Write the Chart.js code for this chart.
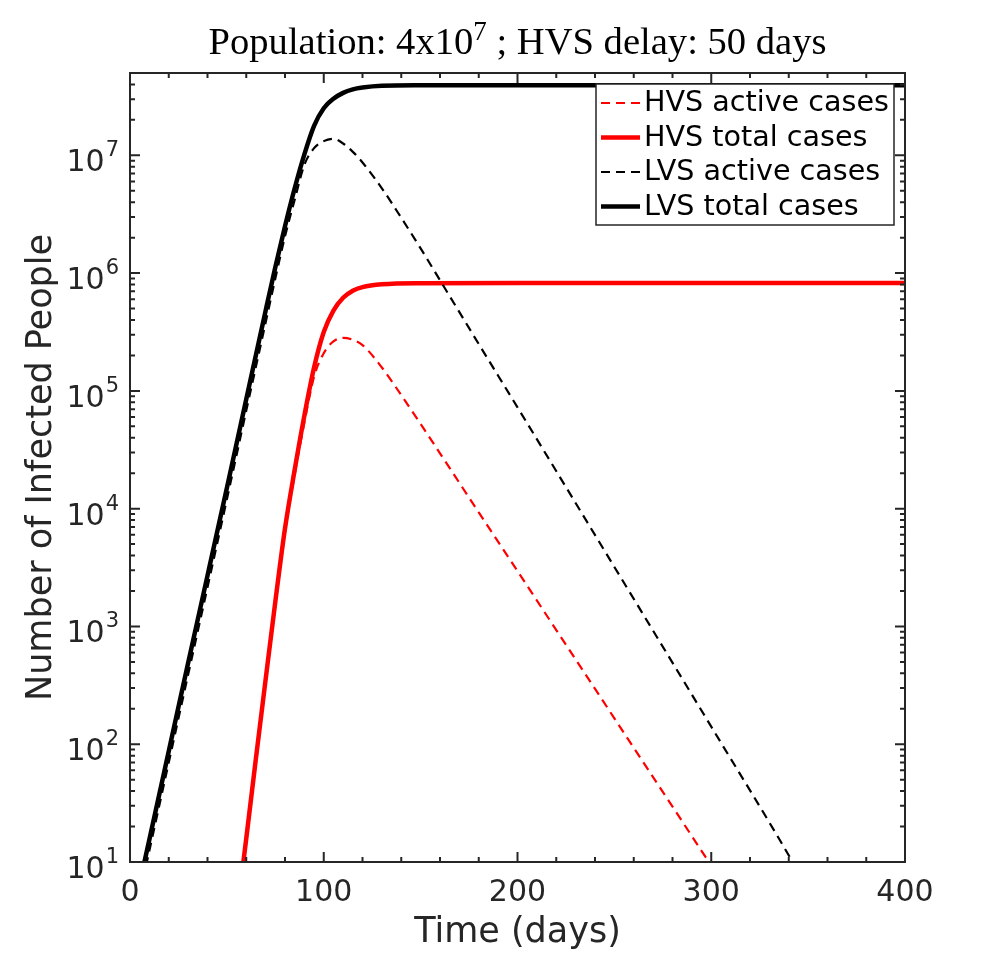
<!DOCTYPE html>
<html>
<head>
<meta charset="utf-8">
<script src="https://cdn.jsdelivr.net/npm/chart.js@4.4.0/dist/chart.umd.min.js"></script>
<style>
  html, body { margin: 0; padding: 0; background: #fff; }
  #wrap { width: 1000px; height: 968px; }
</style>
</head>
<body>
<div id="wrap"><canvas id="myChart" width="1000" height="968"></canvas></div>
<script>
// values (days, people)
const lvsDays = [0, 10, 20, 30, 40, 50, 60, 70, 75, 80, 85, 90, 95, 100, 105, 110, 115, 120, 130, 150, 200, 250, 300, 350, 400];
const lvsTotal = [2.8, 15.5, 87, 490, 2700, 15000, 85000, 4.8e5, 1.12e6, 2.5e6, 5.25e6, 1.02e7, 1.78e7, 2.51e7, 3.02e7, 3.39e7, 3.63e7, 3.76e7, 3.89e7, 3.93e7, 3.94e7, 3.94e7, 3.94e7, 3.94e7, 3.94e7];

const lvsActiveDays = [0, 10, 20, 30, 40, 50, 60, 70, 75, 80, 85, 90, 95, 100, 105, 110, 115, 120, 130, 140, 150, 160, 180, 200, 250, 300, 342, 350];
const lvsActive = [2.2, 12.5, 70, 390, 2150, 12000, 68000, 3.8e5, 9e5, 2.05e6, 4.2e6, 8.3e6, 1.15e7, 1.32e7, 1.38e7, 1.26e7, 1.07e7, 8.7e6, 5.25e6, 2.95e6, 1.62e6, 8.7e5, 2.5e5, 7.25e4, 3200, 141, 10, 5.8];

const hvsDays = [55, 60, 65, 70, 75, 80, 85, 90, 95, 100, 105, 110, 115, 120, 130, 150, 200, 250, 300, 350, 400];
const hvsTotal = [3.4, 15.8, 76, 355, 1620, 6800, 21400, 61700, 1.58e5, 3.16e5, 4.8e5, 6.17e5, 7.08e5, 7.6e5, 8.04e5, 8.22e5, 8.25e5, 8.25e5, 8.25e5, 8.25e5, 8.25e5];

const hvsActiveDays = [55, 60, 65, 70, 75, 80, 85, 90, 95, 100, 105, 110, 115, 120, 130, 140, 150, 160, 180, 200, 250, 300, 310];
const hvsActive = [3.2, 15, 70, 330, 1500, 6300, 19500, 53700, 1.32e5, 2.09e5, 2.63e5, 2.82e5, 2.72e5, 2.45e5, 1.58e5, 9.2e4, 5.25e4, 2.95e4, 9300, 2950, 166, 9.3, 5.2];

const xTickLabels = [0, 100, 200, 300, 400];
const yTickExponents = [1, 2, 3, 4, 5, 6, 7];
const seriesNames = ['HVS active cases', 'HVS total cases', 'LVS active cases', 'LVS total cases'];

const axisColor = '#262626';
const sans = '"DejaVu Sans", sans-serif';
const serif = '"Liberation Serif", serif';

function pts(days, vals) {
  return days.map((d, i) => ({ x: d, y: vals[i] }));
}

// axes box, inward ticks, tick labels, titles, legend
const frame = {
  id: 'frame',
  afterDraw(chart) {
    const ctx = chart.ctx, a = chart.chartArea;
    const xs = chart.scales.x, ys = chart.scales.y;
    ctx.save();

    ctx.strokeStyle = axisColor;
    ctx.lineWidth = 2;
    ctx.strokeRect(a.left, a.top, a.right - a.left, a.bottom - a.top);

    ctx.beginPath();
    for (let v = 0; v <= 400; v += 20) {
      const px = xs.getPixelForValue(v);
      const len = v % 100 === 0 ? 10 : 5;
      ctx.moveTo(px, a.bottom); ctx.lineTo(px, a.bottom - len);
      ctx.moveTo(px, a.top); ctx.lineTo(px, a.top + len);
    }
    for (let k = 1; k <= 7; k++) {
      for (let m = 1; m <= 9; m++) {
        const v = m * Math.pow(10, k);
        if (v < ys.min || v > ys.max) continue;
        const py = ys.getPixelForValue(v);
        const len = m === 1 ? 10 : 5;
        ctx.moveTo(a.left, py); ctx.lineTo(a.left + len, py);
        ctx.moveTo(a.right, py); ctx.lineTo(a.right - len, py);
      }
    }
    ctx.stroke();

    // tick labels
    ctx.fillStyle = axisColor;
    ctx.font = '30px ' + sans;
    ctx.textAlign = 'center';
    ctx.textBaseline = 'alphabetic';
    xTickLabels.forEach(v => {
      ctx.fillText(String(v), xs.getPixelForValue(v), a.bottom + 39);
    });

    yTickExponents.forEach(e => {
      const py = ys.getPixelForValue(Math.pow(10, e));
      ctx.font = '21px ' + sans;
      const ws = ctx.measureText(String(e)).width;
      ctx.textAlign = 'right';
      ctx.fillText(String(e), a.left - 11, py + 1);
      ctx.font = '30px ' + sans;
      ctx.fillText('10', a.left - 12 - ws, py + 16);
    });

    // axis titles
    ctx.font = '35px ' + sans;
    ctx.textAlign = 'center';
    ctx.fillText('Time (days)', (a.left + a.right) / 2, a.bottom + 80);
    ctx.save();
    ctx.translate(51, (a.top + a.bottom) / 2);
    ctx.rotate(-Math.PI / 2);
    ctx.fillText('Number of Infected People', 0, 0);
    ctx.restore();

    // title with superscript, fitted to the reference width
    const p1 = 'Population: 4x10', p2 = '7', p3 = ' ; HVS delay: 50 days';
    ctx.font = '100px ' + serif;
    let w = ctx.measureText(p1).width + ctx.measureText(p3).width + 0.7 * ctx.measureText(p2).width;
    const fs = 100 * 618 / w;
    ctx.fillStyle = '#000';
    ctx.textAlign = 'left';
    ctx.font = fs + 'px ' + serif;
    const w1 = ctx.measureText(p1).width, w3 = ctx.measureText(p3).width;
    ctx.font = (fs * 0.7) + 'px ' + serif;
    const w2 = ctx.measureText(p2).width;
    let tx = (a.left + a.right) / 2 - (w1 + w2 + w3) / 2;
    const ty = a.top - 19;
    ctx.font = fs + 'px ' + serif;
    ctx.fillText(p1, tx, ty);
    ctx.font = (fs * 0.7) + 'px ' + serif;
    ctx.fillText(p2, tx + w1, ty - fs * 0.36);
    ctx.font = fs + 'px ' + serif;
    ctx.fillText(p3, tx + w1 + w2, ty);

    // legend
    const lx = a.right - 309, ly = a.top + 11, lw = 298, lh = 141;
    ctx.fillStyle = '#fff';
    ctx.fillRect(lx, ly, lw, lh);
    ctx.strokeStyle = '#262626';
    ctx.lineWidth = 1.5;
    ctx.strokeRect(lx, ly, lw, lh);
    ctx.font = '28.6px ' + sans;
    ctx.textBaseline = 'middle';
    const ds = chart.data.datasets;
    seriesNames.forEach((name, i) => {
      const d = ds.find(s => s.label === name);
      const ry = ly + 19 + i * 34.5;
      ctx.strokeStyle = d.borderColor;
      ctx.lineWidth = d.borderWidth;
      ctx.setLineDash(d.borderDash || []);
      ctx.beginPath();
      ctx.moveTo(lx + 5, ry); ctx.lineTo(lx + 44, ry);
      ctx.stroke();
      ctx.setLineDash([]);
      ctx.fillStyle = '#000';
      ctx.fillText(name, lx + 48, ry + 1);
    });
    ctx.restore();
  }
};

const ctx = document.getElementById('myChart');
new Chart(ctx, {
  type: 'line',
  data: {
    datasets: [
      { label: 'LVS total cases', data: pts(lvsDays, lvsTotal), borderColor: '#000000', borderWidth: 4.5, order: 0 },
      { label: 'LVS active cases', data: pts(lvsActiveDays, lvsActive), borderColor: '#000000', borderWidth: 2.2, borderDash: [9, 6], order: 1 },
      { label: 'HVS total cases', data: pts(hvsDays, hvsTotal), borderColor: '#ff0000', borderWidth: 4.5, order: 2 },
      { label: 'HVS active cases', data: pts(hvsActiveDays, hvsActive), borderColor: '#ff0000', borderWidth: 2.2, borderDash: [9, 6], order: 3 }
    ]
  },
  options: {
    responsive: false,
    animation: false,
    devicePixelRatio: 1,
    layout: { padding: { left: 130, right: 95, top: 73, bottom: 106 } },
    elements: {
      point: { radius: 0 },
      line: { cubicInterpolationMode: 'monotone', fill: false }
    },
    datasets: { line: { clip: 0 } },
    scales: {
      x: {
        type: 'linear', min: 0, max: 400,
        ticks: { display: false, stepSize: 20 },
        grid: { display: false }, border: { display: false },
        afterFit: s => { s.height = 0; }
      },
      y: {
        type: 'logarithmic', min: 10, max: 5e7,
        ticks: { display: false },
        grid: { display: false }, border: { display: false },
        afterFit: s => { s.width = 0; }
      }
    },
    plugins: {
      legend: { display: false },
      title: { display: false },
      tooltip: { enabled: false }
    }
  },
  plugins: [frame]
});
</script>
</body>
</html>
